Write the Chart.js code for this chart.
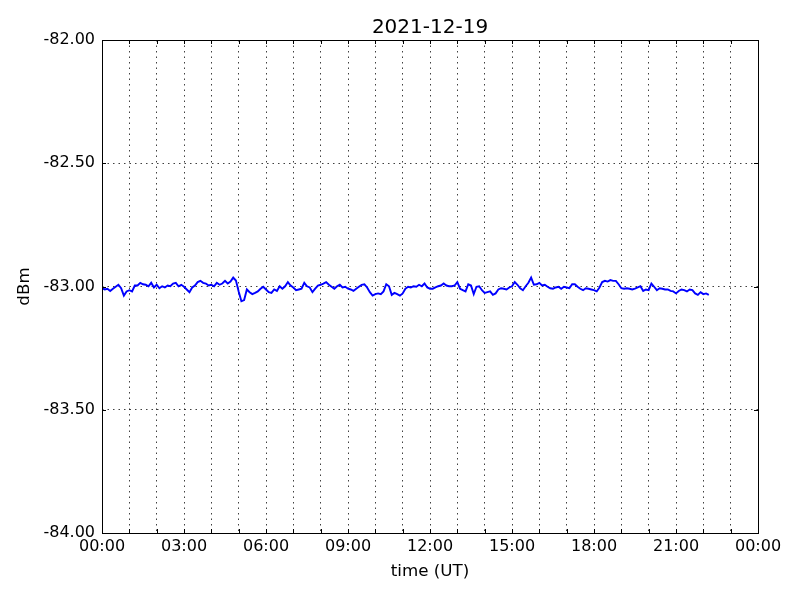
<!DOCTYPE html>
<html>
<head>
<meta charset="utf-8">
<script src="https://cdn.jsdelivr.net/npm/chart.js@4/dist/chart.umd.min.js"></script>
<style>
  html, body { margin: 0; padding: 0; background: #fff; }
  canvas { display: block; }
</style>
</head>
<body>
<canvas id="dbmChart" width="800" height="600"></canvas>
<script>
  // signal level, one sample every 6 minutes from 00:00
  const sampleStepHours = 0.1;
  const levelDbm = [
    -83.007, -83.012, -83.009, -83.018, -83.009, -83.001, -82.993, -83.007, -83.037, -83.020,
    -83.015, -83.020, -82.996, -82.996, -82.985, -82.991, -82.993, -82.999, -82.985, -83.004,
    -82.993, -83.007, -82.999, -83.004, -82.996, -82.999, -82.988, -82.985, -82.999, -82.993,
    -83.001, -83.012, -83.023, -83.004, -82.996, -82.982, -82.977, -82.985, -82.988, -82.996,
    -82.993, -82.999, -82.985, -82.993, -82.988, -82.977, -82.988, -82.980, -82.964, -82.976,
    -83.020, -83.060, -83.055, -83.012, -83.023, -83.031, -83.026, -83.020, -83.009, -83.001,
    -83.012, -83.023, -83.026, -83.012, -83.018, -82.999, -83.009, -82.999, -82.982, -82.996,
    -83.004, -83.015, -83.012, -83.009, -82.985, -82.999, -83.004, -83.023, -83.009, -82.996,
    -82.993, -82.988, -82.982, -82.993, -83.001, -83.009, -82.999, -82.993, -83.004, -83.001,
    -83.009, -83.012, -83.018, -83.009, -83.001, -82.993, -82.991, -83.004, -83.023, -83.037,
    -83.031, -83.028, -83.031, -83.020, -82.991, -82.999, -83.034, -83.026, -83.031, -83.037,
    -83.028, -83.009, -83.001, -83.004, -82.999, -83.001, -82.993, -82.999, -82.988, -83.004,
    -83.009, -83.009, -83.004, -82.999, -82.996, -82.988, -82.996, -82.999, -82.999, -82.996,
    -82.982, -83.009, -83.015, -83.020, -82.991, -82.996, -83.031, -83.001, -82.999, -83.015,
    -83.026, -83.023, -83.020, -83.034, -83.028, -83.012, -83.007, -83.009, -83.012, -83.004,
    -82.999, -82.982, -82.993, -83.007, -83.015, -82.999, -82.985, -82.964, -82.993, -82.991,
    -82.985, -82.996, -82.993, -83.001, -83.007, -83.009, -83.004, -83.001, -83.009, -83.001,
    -83.004, -83.007, -82.991, -82.991, -83.001, -83.009, -83.015, -83.007, -83.009, -83.012,
    -83.015, -83.020, -83.004, -82.982, -82.977, -82.980, -82.974, -82.977, -82.977, -82.991,
    -83.007, -83.009, -83.007, -83.009, -83.012, -83.009, -83.004, -82.999, -83.018, -83.012,
    -83.015, -82.988, -83.001, -83.015, -83.007, -83.009, -83.012, -83.012, -83.018, -83.020,
    -83.028, -83.018, -83.012, -83.015, -83.020, -83.012, -83.015, -83.028, -83.034, -83.023,
    -83.031, -83.028, -83.034
  ];

  const xTickHours = [0, 3, 6, 9, 12, 15, 18, 21, 24];
  const xTickLabels = ['00:00', '03:00', '06:00', '09:00', '12:00', '15:00', '18:00', '21:00', '00:00'];
  const yTicks = [-84, -83.5, -83, -82.5, -82];

  const tickFont = { family: 'DejaVu Sans', size: 16 };
  const labelFont = { family: 'DejaVu Sans', size: 16.7 };

  const points = levelDbm.map((v, i) => ({ x: i * sampleStepHours, y: v }));

  // frame, inward tick marks and the title, drawn like the matplotlib original
  const framePlugin = {
    id: 'frame',
    afterDraw(chart) {
      const { ctx, chartArea: a, scales: { x, y } } = chart;
      ctx.save();
      ctx.strokeStyle = '#000';
      ctx.lineWidth = 1;
      ctx.beginPath();
      for (let h = 0; h <= 24; h++) {
        const px = Math.round(x.getPixelForValue(h)) + 0.5;
        ctx.moveTo(px, a.bottom); ctx.lineTo(px, a.bottom - 4);
        ctx.moveTo(px, a.top); ctx.lineTo(px, a.top + 4);
      }
      yTicks.forEach(v => {
        const py = Math.round(y.getPixelForValue(v)) + 0.5;
        ctx.moveTo(a.left, py); ctx.lineTo(a.left + 4, py);
        ctx.moveTo(a.right, py); ctx.lineTo(a.right - 4, py);
      });
      ctx.stroke();
      ctx.strokeRect(Math.round(a.left) + 0.5, Math.round(a.top) + 0.5,
        Math.round(a.right - a.left), Math.round(a.bottom - a.top));

      ctx.fillStyle = '#000';
      ctx.font = '20px "DejaVu Sans"';
      ctx.textAlign = 'center';
      ctx.textBaseline = 'middle';
      ctx.fillText('2021-12-19', (a.left + a.right) / 2, 28);
      ctx.restore();
    }
  };

  const ctx = document.getElementById('dbmChart').getContext('2d');
  const dbmChart = new Chart(ctx, {
    type: 'line',
    data: {
      datasets: [{
        data: points,
        borderColor: '#0000ff',
        borderWidth: 1.9,
        pointRadius: 0,
        tension: 0,
        fill: false
      }]
    },
    options: {
      responsive: false,
      animation: false,
      layout: { padding: { top: 40, right: 42, left: 0, bottom: 0 } },
      plugins: {
        legend: { display: false },
        tooltip: { enabled: false }
      },
      scales: {
        x: {
          type: 'linear',
          min: 0,
          max: 24,
          afterFit: s => { s.height = 67; },
          ticks: {
            stepSize: 1,
            autoSkip: false,
            maxRotation: 0,
            padding: 4,
            color: '#000',
            font: tickFont,
            callback: v => {
              const i = xTickHours.indexOf(v);
              return i >= 0 ? xTickLabels[i] : '';
            }
          },
          grid: { color: 'rgba(0,0,0,0.75)', lineWidth: 1, drawTicks: false },
          border: { display: false, dash: [1.5, 4] },
          title: {
            display: true,
            text: 'time (UT)',
            color: '#000',
            font: labelFont,
            padding: { top: 0, bottom: 18 }
          }
        },
        y: {
          min: -84,
          max: -82,
          afterFit: s => { s.width = 102; },
          afterBuildTicks: s => { s.ticks = yTicks.map(v => ({ value: v })); },
          ticks: {
            padding: 7,
            color: '#000',
            font: tickFont,
            callback: v => v.toFixed(2)
          },
          grid: { color: 'rgba(0,0,0,0.75)', lineWidth: 1, drawTicks: false },
          border: { display: false, dash: [1.5, 4] },
          title: {
            display: true,
            text: 'dBm',
            color: '#000',
            font: labelFont,
            padding: { top: 15, bottom: 0 }
          }
        }
      }
    },
    plugins: [framePlugin]
  });
</script>
</body>
</html>
